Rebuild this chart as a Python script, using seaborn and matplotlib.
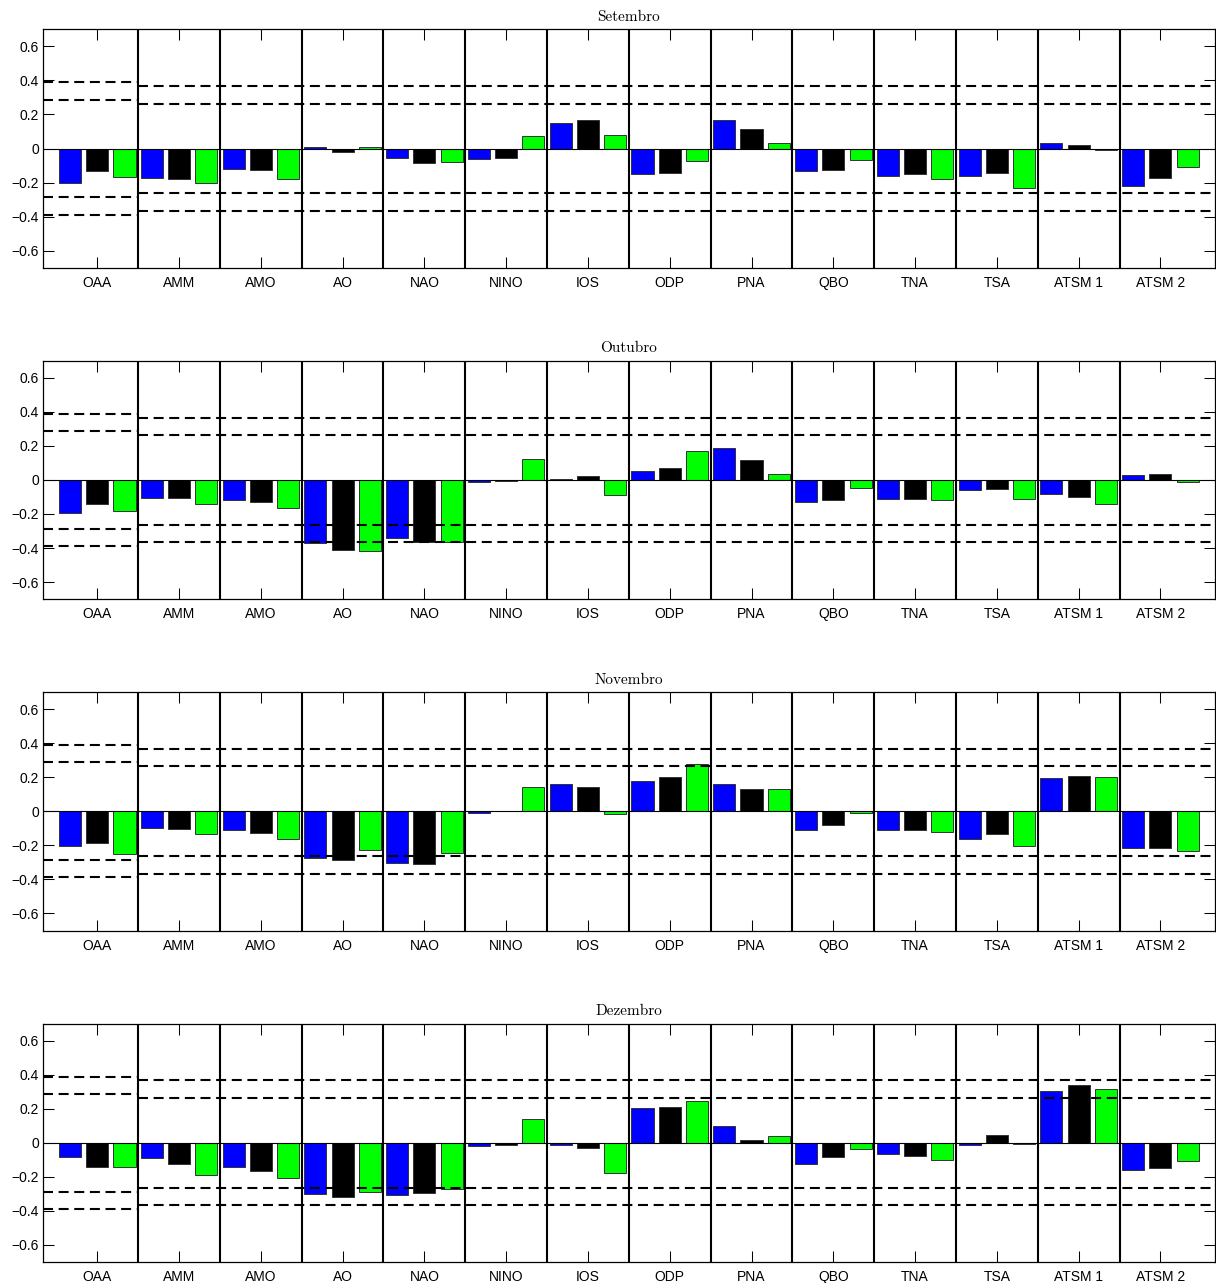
import matplotlib
matplotlib.use("Agg")
import matplotlib.pyplot as plt
import numpy as np
import pandas as pd
import seaborn as sns

# Climate indices on the x axis
indices = ["OAA", "AMM", "AMO", "AO", "NAO", "NINO", "IOS",
           "ODP", "PNA", "QBO", "TNA", "TSA", "ATSM 1", "ATSM 2"]

months = ["Setembro", "Outubro", "Novembro", "Dezembro"]

# Correlations per month, three series per index (blue, black, green)
setembro_s1 = [-0.204, -0.171, -0.118, 0.010, -0.057, -0.061, 0.149,
               -0.151, 0.167, -0.135, -0.159, -0.163, 0.035, -0.222]
setembro_s2 = [-0.135, -0.178, -0.129, -0.018, -0.088, -0.053, 0.169,
               -0.141, 0.116, -0.127, -0.151, -0.143, 0.020, -0.176]
setembro_s3 = [-0.169, -0.202, -0.180, 0.006, -0.080, 0.075, 0.078,
               -0.075, 0.035, -0.065, -0.182, -0.233, -0.010, -0.108]

outubro_s1 = [-0.194, -0.108, -0.120, -0.371, -0.341, -0.014, 0.008,
              0.053, 0.186, -0.129, -0.112, -0.059, -0.084, 0.027]
outubro_s2 = [-0.143, -0.108, -0.129, -0.410, -0.363, -0.006, 0.024,
              0.071, 0.116, -0.116, -0.110, -0.051, -0.098, 0.037]
outubro_s3 = [-0.182, -0.139, -0.165, -0.416, -0.363, 0.125, -0.090,
              0.171, 0.035, -0.047, -0.116, -0.112, -0.141, -0.012]

novembro_s1 = [-0.204, -0.096, -0.108, -0.275, -0.302, -0.010, 0.161,
               0.178, 0.163, -0.110, -0.112, -0.163, 0.194, -0.214]
novembro_s2 = [-0.184, -0.106, -0.125, -0.286, -0.310, 0.001, 0.145,
               0.204, 0.133, -0.078, -0.112, -0.133, 0.206, -0.218]
novembro_s3 = [-0.253, -0.133, -0.165, -0.229, -0.247, 0.145, -0.016,
               0.275, 0.133, -0.008, -0.120, -0.202, 0.204, -0.235]

dezembro_s1 = [-0.086, -0.090, -0.145, -0.300, -0.310, -0.022, -0.016,
               0.202, 0.098, -0.127, -0.067, -0.014, 0.306, -0.163]
dezembro_s2 = [-0.141, -0.125, -0.167, -0.316, -0.294, -0.016, -0.029,
               0.212, 0.014, -0.082, -0.080, 0.047, 0.337, -0.149]
dezembro_s3 = [-0.143, -0.188, -0.206, -0.288, -0.273, 0.141, -0.175,
               0.243, 0.037, -0.039, -0.104, -0.010, 0.314, -0.110]

# Significance thresholds (first index has its own pair)
limiar_oaa = [0.287, 0.388]
limiar_demais = [0.264, 0.366]

yticks = [-0.6, -0.4, -0.2, 0.0, 0.2, 0.4, 0.6]
ytick_labels = ["\u22120.6", "\u22120.4", "\u22120.2", "0", "0.2", "0.4", "0.6"]

series = ["s1", "s2", "s3"]
palette = {"s1": "#0000ff", "s2": "#000000", "s3": "#00ff00"}

valores = {
    "Setembro": [setembro_s1, setembro_s2, setembro_s3],
    "Outubro": [outubro_s1, outubro_s2, outubro_s3],
    "Novembro": [novembro_s1, novembro_s2, novembro_s3],
    "Dezembro": [dezembro_s1, dezembro_s2, dezembro_s3],
}

rows = []
for mes in months:
    for serie, vals in zip(series, valores[mes]):
        for idx, v in zip(indices, vals):
            rows.append({"mes": mes, "indice": idx, "serie": serie, "corr": v})
df = pd.DataFrame(rows)

plt.rcParams["font.family"] = ["Liberation Sans", "DejaVu Sans"]
plt.rcParams["font.size"] = 10

W, H = 1216, 1283
fig = plt.figure(figsize=(W / 100, H / 100), dpi=100)

left_px, right_px = 42.7, 1215.0
tops_px = [29.3, 360.7, 692.1, 1023.5]
height_px = 238.4

n = len(indices)
x0, x1 = -0.667, n - 1 + 0.667

for mes, top in zip(months, tops_px):
    ax = fig.add_axes([left_px / W, (H - top - height_px) / H,
                       (right_px - left_px) / W, height_px / H])
    sns.barplot(data=df[df["mes"] == mes], x="indice", y="corr", hue="serie",
                order=indices, hue_order=series, palette=palette,
                width=1.0, gap=0.19, saturation=1, errorbar=None,
                edgecolor="#333333", linewidth=0.7, legend=False,
                ax=ax, zorder=2)

    ax.set_xlim(x0, x1)
    ax.set_ylim(-0.7, 0.7)
    ax.set_xlabel("")
    ax.set_ylabel("")

    # zero baseline
    ax.axhline(0, color="black", lw=0.8, zorder=3)

    # group separators
    for k in range(n - 1):
        ax.axvline(k + 0.5, color="black", lw=1.5, zorder=4)

    # threshold lines
    dash = (0, (4.8, 2.7))
    for lv in limiar_oaa:
        for s in (1, -1):
            ax.plot([x0, 0.5], [s * lv, s * lv], color="black", lw=1.5,
                    linestyle=dash, zorder=5)
    for lv in limiar_demais:
        for s in (1, -1):
            ax.plot([0.5, x1], [s * lv, s * lv], color="black", lw=1.5,
                    linestyle=dash, zorder=5)

    ax.set_yticks(yticks)
    ax.set_yticklabels(ytick_labels)
    ax.tick_params(axis="both", direction="in", length=8, width=0.75,
                   top=True, right=True, labelsize=10, colors="black")
    ax.tick_params(axis="x", pad=6)
    ax.tick_params(axis="y", pad=2.5)
    for sp in ax.spines.values():
        sp.set_linewidth(0.9)
        sp.set_color("black")
        sp.set_zorder(6)

    ax.set_title(mes, fontfamily="cmr10", fontsize=11, pad=6)

fig.savefig("out.png", dpi=100)
